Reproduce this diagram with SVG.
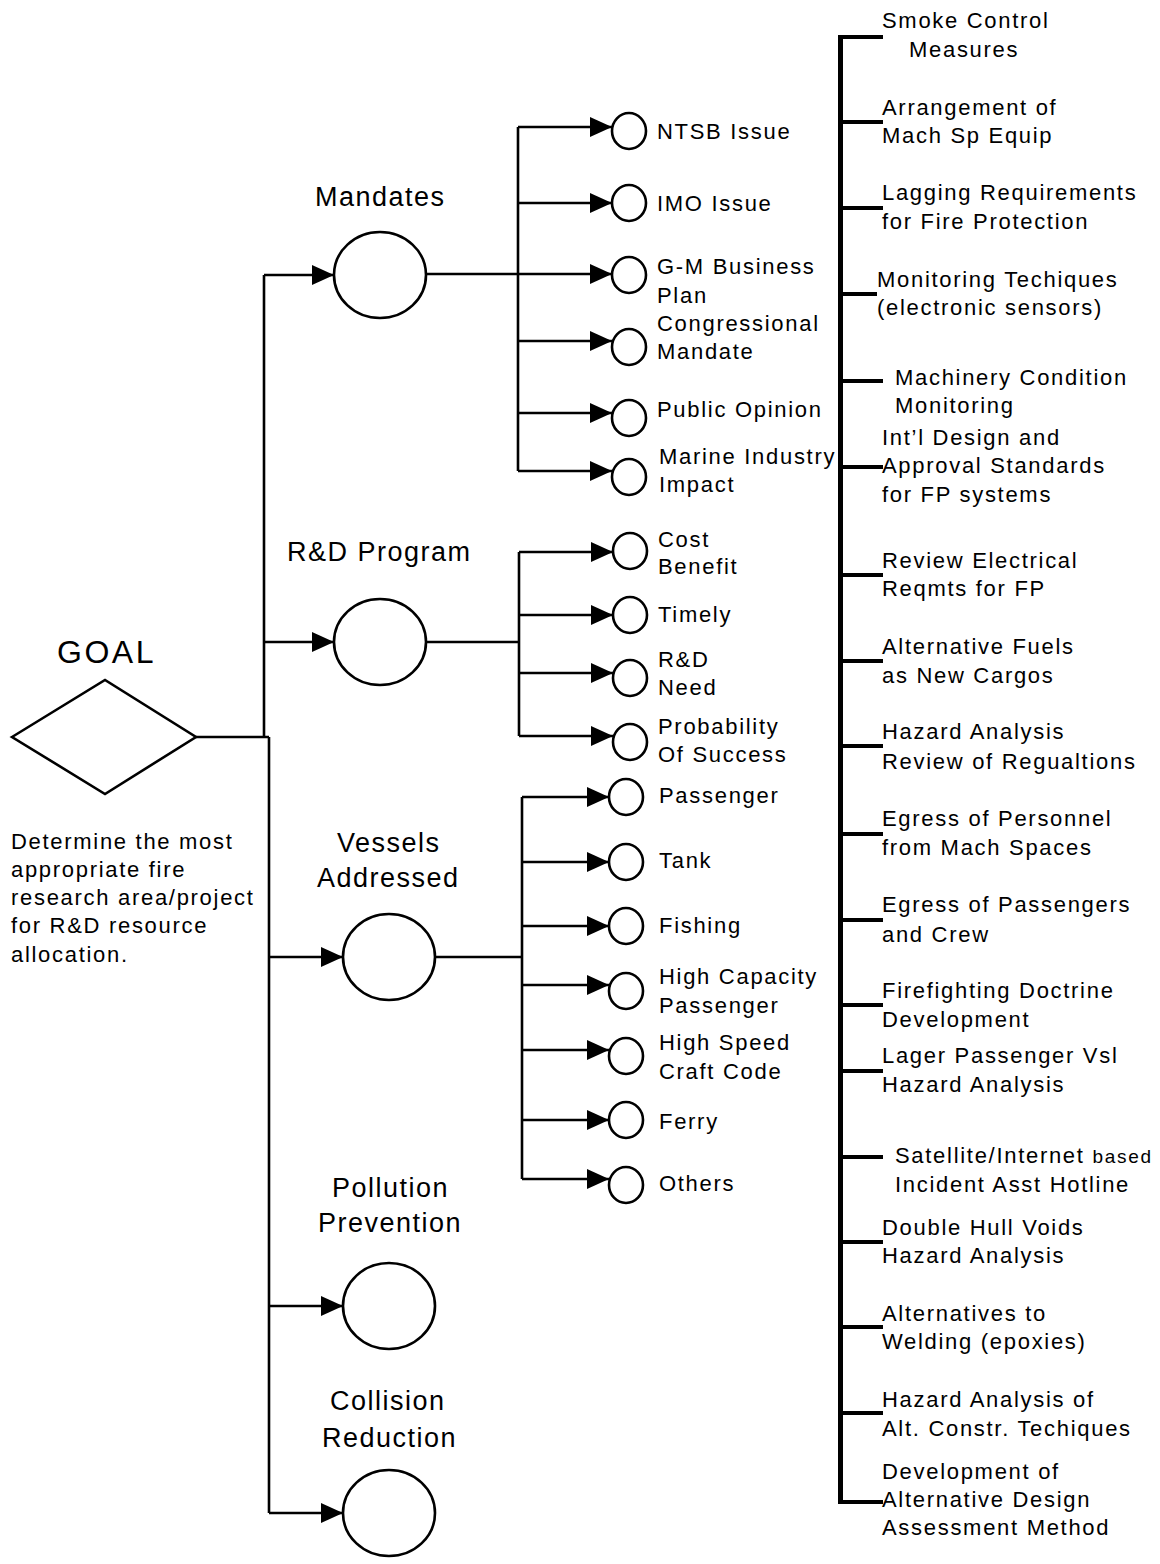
<svg xmlns="http://www.w3.org/2000/svg" width="1160" height="1564" viewBox="0 0 1160 1564">
<style>
text{font-family:"Liberation Sans",Arial,sans-serif;fill:#000}
.s{font-size:22px;letter-spacing:1.7px}
.l{font-size:27px;letter-spacing:1.5px}
.g{font-size:32px;letter-spacing:2.5px}
.c{fill:#fff;stroke:#000;stroke-width:2.6}
.w{fill:none;stroke:#000;stroke-width:2.6}
.a{fill:none;stroke:#000;stroke-width:2.6;marker-end:url(#ah)}
.t{fill:none;stroke:#000;stroke-width:4}
</style>
<defs>
<marker id="ah" markerUnits="userSpaceOnUse" markerWidth="22" markerHeight="20" refX="22" refY="10" orient="auto"><path d="M0,0 L22,10 L0,20 Z" fill="#000"/></marker>
</defs>
<rect width="1160" height="1564" fill="#fff"/>
<g id="connectors">
<path class="w" d="M196,737 H269 M264,737 V275 M269,737 V1513"/>
<path class="a" d="M264,275 H334"/>
<path class="a" d="M264,642 H334"/>
<path class="a" d="M269,957 H343"/>
<path class="a" d="M269,1306 H343"/>
<path class="a" d="M269,1513 H343"/>
<path class="w" d="M426,274 H518 M518,127 V471"/>
<path class="a" d="M518,127 H612"/>
<path class="a" d="M518,203 H612"/>
<path class="a" d="M518,274 H612"/>
<path class="a" d="M518,341 H612"/>
<path class="a" d="M518,413 H612"/>
<path class="a" d="M518,471 H612"/>
<path class="w" d="M426,642 H519 M519,552 V736"/>
<path class="a" d="M519,552 H613"/>
<path class="a" d="M519,615 H613"/>
<path class="a" d="M519,673 H613"/>
<path class="a" d="M519,736 H613"/>
<path class="w" d="M435,957 H522 M522,797 V1179"/>
<path class="a" d="M522,797 H609"/>
<path class="a" d="M522,862 H609"/>
<path class="a" d="M522,926 H609"/>
<path class="a" d="M522,985 H609"/>
<path class="a" d="M522,1050 H609"/>
<path class="a" d="M522,1120 H609"/>
<path class="a" d="M522,1179 H609"/>
<path fill="none" stroke="#000" stroke-width="5" d="M840.5,35 V1504"/>
<path class="t" d="M838,37 H883 M838,122 H883 M838,208 H883 M838,294 H877 M838,381 H883 M838,467 H883 M838,575 H883 M838,661 H883 M838,746 H883 M838,834 H883 M838,920 H883 M838,1005 H883 M838,1071 H883 M838,1157 H883 M838,1242 H883 M838,1327 H883 M838,1413 H883 M838,1502 H883"/>
</g>
<g id="goal">
<polygon points="12,737 105,680 196,737 105,794" fill="#fff" stroke="#000" stroke-width="2.6"/>
<text class="g" x="57" y="663">GOAL</text>
<text class="s" x="11" y="849">Determine the most</text>
<text class="s" x="11" y="877">appropriate fire</text>
<text class="s" x="11" y="905">research area/project</text>
<text class="s" x="11" y="933">for R&amp;D resource</text>
<text class="s" x="11" y="962">allocation.</text>
</g>
<g id="mandates">
<ellipse class="c" cx="380" cy="275" rx="46" ry="43"/>
<text class="l" x="315" y="206">Mandates</text>
</g>
<g id="rd-program">
<ellipse class="c" cx="380" cy="642" rx="46" ry="43"/>
<text class="l" x="287" y="561">R&amp;D Program</text>
</g>
<g id="vessels">
<ellipse class="c" cx="389" cy="957" rx="46" ry="43"/>
<text class="l" x="337" y="852">Vessels</text>
<text class="l" x="317" y="887">Addressed</text>
</g>
<g id="pollution">
<ellipse class="c" cx="389" cy="1306" rx="46" ry="43"/>
<text class="l" x="332" y="1197">Pollution</text>
<text class="l" x="318" y="1232">Prevention</text>
</g>
<g id="collision">
<ellipse class="c" cx="389" cy="1513" rx="46" ry="43"/>
<text class="l" x="330" y="1410">Collision</text>
<text class="l" x="322" y="1447">Reduction</text>
</g>
<g id="m-ntsb"><ellipse class="c" cx="629" cy="131" rx="17" ry="18"/><text class="s" x="657" y="139">NTSB Issue</text></g>
<g id="m-imo"><ellipse class="c" cx="629" cy="203" rx="17" ry="18"/><text class="s" x="657" y="211">IMO Issue</text></g>
<g id="m-gm"><ellipse class="c" cx="629" cy="275" rx="17" ry="18"/><text class="s" x="657" y="274">G-M Business</text><text class="s" x="657" y="303">Plan</text></g>
<g id="m-cong"><ellipse class="c" cx="629" cy="347" rx="17" ry="18"/><text class="s" x="657" y="331">Congressional</text><text class="s" x="657" y="359">Mandate</text></g>
<g id="m-public"><ellipse class="c" cx="629" cy="418" rx="17" ry="18"/><text class="s" x="657" y="417">Public Opinion</text></g>
<g id="m-marine"><ellipse class="c" cx="629" cy="477" rx="17" ry="18"/><text class="s" x="659" y="464">Marine Industry</text><text class="s" x="659" y="492">Impact</text></g>
<g id="r-cost"><ellipse class="c" cx="630" cy="551" rx="17" ry="18"/><text class="s" x="658" y="547">Cost</text><text class="s" x="658" y="574">Benefit</text></g>
<g id="r-timely"><ellipse class="c" cx="630" cy="615" rx="17" ry="18"/><text class="s" x="658" y="622">Timely</text></g>
<g id="r-need"><ellipse class="c" cx="630" cy="678" rx="17" ry="18"/><text class="s" x="658" y="667">R&amp;D</text><text class="s" x="658" y="695">Need</text></g>
<g id="r-prob"><ellipse class="c" cx="630" cy="742" rx="17" ry="18"/><text class="s" x="658" y="734">Probability</text><text class="s" x="658" y="762">Of Success</text></g>
<g id="v-passenger"><ellipse class="c" cx="626" cy="797" rx="17" ry="18"/><text class="s" x="659" y="803">Passenger</text></g>
<g id="v-tank"><ellipse class="c" cx="626" cy="862" rx="17" ry="18"/><text class="s" x="659" y="868">Tank</text></g>
<g id="v-fishing"><ellipse class="c" cx="626" cy="926" rx="17" ry="18"/><text class="s" x="659" y="933">Fishing</text></g>
<g id="v-highcap"><ellipse class="c" cx="626" cy="991" rx="17" ry="18"/><text class="s" x="659" y="984">High Capacity</text><text class="s" x="659" y="1013">Passenger</text></g>
<g id="v-highspeed"><ellipse class="c" cx="626" cy="1056" rx="17" ry="18"/><text class="s" x="659" y="1050">High Speed</text><text class="s" x="659" y="1079">Craft Code</text></g>
<g id="v-ferry"><ellipse class="c" cx="626" cy="1120" rx="17" ry="18"/><text class="s" x="659" y="1129">Ferry</text></g>
<g id="v-others"><ellipse class="c" cx="626" cy="1185" rx="17" ry="18"/><text class="s" x="659" y="1191">Others</text></g>
<g id="projects">
<text class="s" x="882" y="28">Smoke Control</text><text class="s" x="909" y="57">Measures</text>
<text class="s" x="882" y="115">Arrangement of</text><text class="s" x="882" y="143">Mach Sp Equip</text>
<text class="s" x="882" y="200">Lagging Requirements</text><text class="s" x="882" y="229">for Fire Protection</text>
<text class="s" x="877" y="287">Monitoring Techiques</text><text class="s" x="877" y="315">(electronic sensors)</text>
<text class="s" x="895" y="385">Machinery Condition</text><text class="s" x="895" y="413">Monitoring</text>
<text class="s" x="882" y="445">Int’l Design and</text><text class="s" x="882" y="473">Approval Standards</text><text class="s" x="882" y="502">for FP systems</text>
<text class="s" x="882" y="568">Review Electrical</text><text class="s" x="882" y="596">Reqmts for FP</text>
<text class="s" x="882" y="654">Alternative Fuels</text><text class="s" x="882" y="683">as New Cargos</text>
<text class="s" x="882" y="739">Hazard Analysis</text><text class="s" x="882" y="769">Review of Regualtions</text>
<text class="s" x="882" y="826">Egress of Personnel</text><text class="s" x="882" y="855">from Mach Spaces</text>
<text class="s" x="882" y="912">Egress of Passengers</text><text class="s" x="882" y="942">and Crew</text>
<text class="s" x="882" y="998">Firefighting Doctrine</text><text class="s" x="882" y="1027">Development</text>
<text class="s" x="882" y="1063">Lager Passenger Vsl</text><text class="s" x="882" y="1092">Hazard Analysis</text>
<text class="s" x="895" y="1163">Satellite/Internet <tspan font-size="19px">based</tspan></text><text class="s" x="895" y="1192">Incident Asst Hotline</text>
<text class="s" x="882" y="1235">Double Hull Voids</text><text class="s" x="882" y="1263">Hazard Analysis</text>
<text class="s" x="882" y="1321">Alternatives to</text><text class="s" x="882" y="1349">Welding (epoxies)</text>
<text class="s" x="882" y="1407">Hazard Analysis of</text><text class="s" x="882" y="1436">Alt. Constr. Techiques</text>
<text class="s" x="882" y="1479">Development of</text><text class="s" x="882" y="1507">Alternative Design</text><text class="s" x="882" y="1535">Assessment Method</text>
</g>
</svg>
